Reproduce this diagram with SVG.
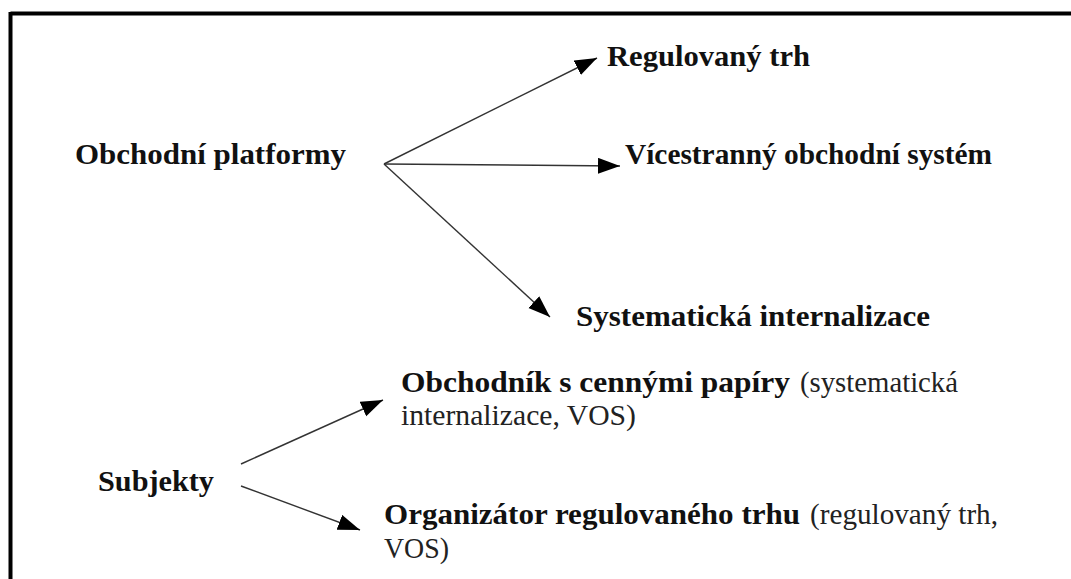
<svg xmlns="http://www.w3.org/2000/svg" width="1071" height="579" viewBox="0 0 1071 579">
<style>
.b{font-family:"Liberation Serif","Times New Roman",serif;font-weight:bold;font-size:29px;fill:#111}
.r{font-family:"Liberation Serif","Times New Roman",serif;font-size:29px;fill:#222}
.c{stroke:#333;stroke-width:1.4;fill:none;marker-end:url(#ah)}
</style>
<defs>
<marker id="ah" markerUnits="userSpaceOnUse" markerWidth="24" markerHeight="18" refX="22" refY="8" orient="auto">
<path d="M0,0 L22,8 L0,16 z" fill="#000"/>
</marker>
</defs>
<rect width="1071" height="579" fill="#fff"/>
<g id="frame">
<line x1="10.5" y1="13.5" x2="1071" y2="13.5" stroke="#000" stroke-width="4"/>
<line x1="10.5" y1="12" x2="10.5" y2="579" stroke="#000" stroke-width="4"/>
</g>
<g id="connectors">
<line class="c" x1="384" y1="164" x2="597" y2="58"/>
<line class="c" x1="384" y1="164" x2="620" y2="166"/>
<line class="c" x1="384" y1="164" x2="550" y2="317"/>
<line class="c" x1="241" y1="464" x2="383" y2="400"/>
<line class="c" x1="241" y1="486" x2="360" y2="530"/>
</g>
<g id="obchodni-platformy"><text class="b" x="75" y="164" textLength="271" lengthAdjust="spacingAndGlyphs">Obchodní platformy</text></g>
<g id="regulovany-trh"><text class="b" x="607" y="66" textLength="203" lengthAdjust="spacingAndGlyphs">Regulovaný trh</text></g>
<g id="vicestranny"><text class="b" x="625" y="164" textLength="367" lengthAdjust="spacingAndGlyphs">Vícestranný obchodní systém</text></g>
<g id="systematicka"><text class="b" x="576" y="326" textLength="354" lengthAdjust="spacingAndGlyphs">Systematická internalizace</text></g>
<g id="obchodnik">
<text class="b" x="401" y="392" textLength="389" lengthAdjust="spacingAndGlyphs">Obchodník s cennými papíry</text>
<text class="r" x="800" y="392" textLength="158" lengthAdjust="spacingAndGlyphs">(systematická</text>
<text class="r" x="401" y="425" textLength="235" lengthAdjust="spacingAndGlyphs">internalizace, VOS)</text>
</g>
<g id="subjekty"><text class="b" x="98" y="491" textLength="116" lengthAdjust="spacingAndGlyphs">Subjekty</text></g>
<g id="organizator">
<text class="b" x="384" y="524" textLength="416" lengthAdjust="spacingAndGlyphs">Organizátor regulovaného trhu</text>
<text class="r" x="810" y="524" textLength="188" lengthAdjust="spacingAndGlyphs">(regulovaný trh,</text>
<text class="r" x="384" y="558" textLength="65" lengthAdjust="spacingAndGlyphs">VOS)</text>
</g>
</svg>
